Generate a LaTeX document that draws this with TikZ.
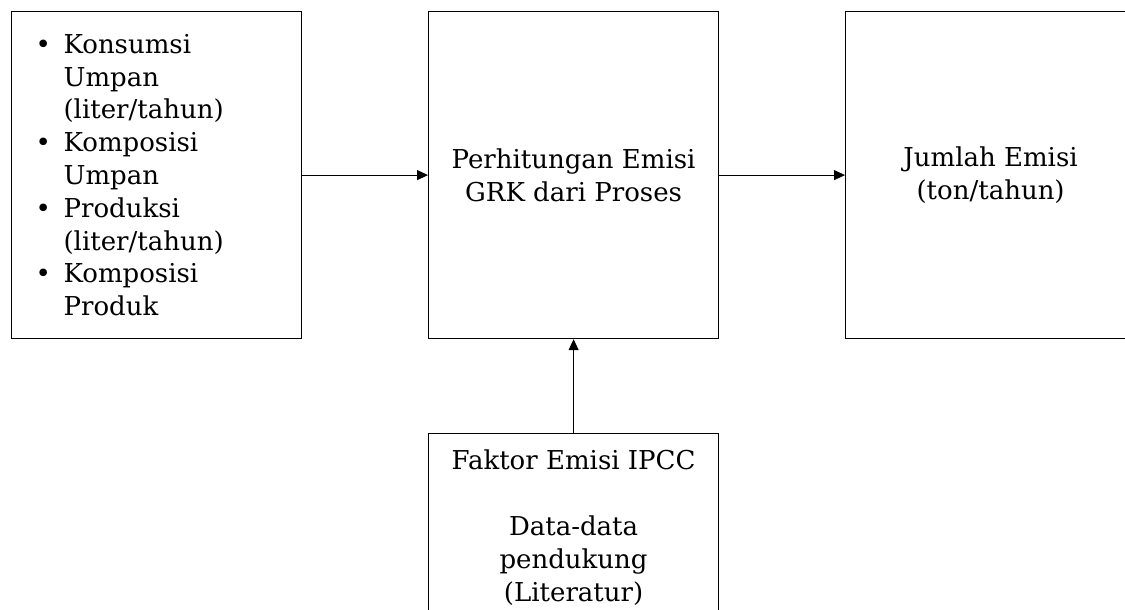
\documentclass[tikz,border=0pt]{standalone}
\usepackage{fontspec}
\setmainfont{DejaVu Serif}
\usetikzlibrary{arrows.meta}
\tikzset{
  box/.style={draw, line width=0.6pt, minimum width=145pt, minimum height=163.5pt, inner sep=0pt, align=center},
  link/.style={-{Triangle[length=5.5pt,width=5pt]}, line width=0.4pt}
}
\newcommand{\itm}{\makebox[14pt][l]{\textbullet}}
\newcommand{\ind}{\hspace*{14pt}}
\begin{document}
\begin{tikzpicture}[x=0.5pt,y=-0.5pt,font=\fontsize{13}{16.4}\selectfont]
  \useasboundingbox (0,0) rectangle (1125,610);
  \node[box, anchor=north west, align=left, inner xsep=12pt, text width=121pt] (input) at (11,11)
    {\itm Konsumsi\\ \ind Umpan\\ \ind (liter/tahun)\\
     \itm Komposisi\\ \ind Umpan\\
     \itm Produksi\\ \ind (liter/tahun)\\
     \itm Komposisi\\ \ind Produk};
  \node[box, anchor=north west] (calc) at (428,11) {Perhitungan Emisi\\GRK dari Proses};
  \node[box, anchor=north west] (result) at (845,11) {Jumlah Emisi\\(ton/tahun)};
  \node[box, anchor=north west, minimum height=94pt] (factor) at (428,433)
    {Faktor Emisi IPCC\\[16.4pt]Data-data\\pendukung\\(Literatur)};
  \draw[link] (input.east) -- (calc.west);
  \draw[link] (calc.east) -- (result.west);
  \draw[link] (factor.north) -- (calc.south);
\end{tikzpicture}
\end{document}
